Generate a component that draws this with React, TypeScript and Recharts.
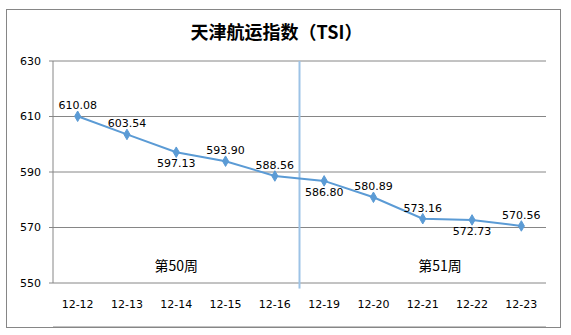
import React from "react";
import {
  LineChart,
  Line,
  XAxis,
  YAxis,
  CartesianGrid,
  ReferenceLine,
  ReferenceDot,
  LabelList,
  Symbols,
} from "recharts";

const dates = ["12-12", "12-13", "12-14", "12-15", "12-16", "12-19", "12-20", "12-21", "12-22", "12-23"];
const tsi = [610.08, 603.54, 597.13, 593.9, 588.56, 586.8, 580.89, 573.16, 572.73, 570.56];
const yTicks = [550, 570, 590, 610, 630];
const weeks = [
  { text: "第50周", x: 2.5, y: 556 },
  { text: "第51周", x: 7.85, y: 556 },
];
// index of points whose value label sits under the marker
const labelsBelow = [2, 5, 8];

const data = dates.map((d, i) => ({ date: d, idx: i + 0.5, value: tsi[i] }));
const boundaryTicks = dates.map((_, i) => i).concat(dates.length);
const centerTicks = dates.map((_, i) => i + 0.5);

const LINE = "#5B9BD5";
const GRID = "#868686";
const NUM_FONT = "DejaVu Sans, Verdana, sans-serif";
const CJK_FONT = "'Noto Sans CJK SC', sans-serif";

const Diamond = (props: any) => {
  const { cx, cy } = props;
  if (cx == null || cy == null) return null;
  return <Symbols cx={cx} cy={cy} type="diamond" size={32} fill={LINE} stroke={LINE} />;
};

const ValueLabel = (props: any) => {
  const { x, y, value, index } = props;
  const below = labelsBelow.includes(index);
  return (
    <text
      x={x}
      y={below ? y + 15 : y - 7}
      textAnchor="middle"
      fontSize={11}
      fontFamily={NUM_FONT}
      fill="#000"
    >
      {Number(value).toFixed(2)}
    </text>
  );
};

const App: React.FC = () => {
  return (
    <div style={{ position: "absolute", left: 0, top: 0, width: 571, height: 335, background: "#fff" }}>
      <div
        style={{
          position: "absolute",
          left: 6,
          top: 9,
          width: 555,
          height: 319,
          boxSizing: "border-box",
          border: `1px solid ${GRID}`,
        }}
      />
      <div
        style={{
          position: "absolute",
          left: 0,
          top: 19,
          width: 553,
          textAlign: "center",
          fontFamily: CJK_FONT,
          fontWeight: 700,
          fontSize: 18,
          lineHeight: "24px",
          color: "#000",
        }}
      >
        天津航运指数（TSI）
      </div>
      <div style={{ position: "absolute", left: 0, top: 0 }}>
        <LineChart width={571} height={335} data={data} margin={{ top: 61, right: 25, left: 0, bottom: 0 }}>
          <CartesianGrid vertical={false} stroke={GRID} strokeWidth={1} />
          <XAxis
            xAxisId="main"
            type="number"
            dataKey="idx"
            domain={[0, dates.length]}
            ticks={boundaryTicks}
            interval={0}
            tick={false}
            tickSize={4}
            stroke={GRID}
            height={8}
          />
          <XAxis
            xAxisId="labels"
            type="number"
            dataKey="idx"
            domain={[0, dates.length]}
            ticks={centerTicks}
            interval={0}
            tickFormatter={(v: number) => dates[Math.floor(v)]}
            axisLine={false}
            tickLine={false}
            tickMargin={11}
            height={44}
            tick={{ fontSize: 11, fontFamily: NUM_FONT, fill: "#000" }}
          />
          <YAxis
            domain={[550, 630]}
            ticks={yTicks}
            interval={0}
            width={53}
            tickSize={4}
            tickMargin={8}
            stroke={GRID}
            tick={{ fontSize: 11, fontFamily: NUM_FONT, fill: "#000" }}
          />
          <ReferenceLine
            xAxisId="main"
            segment={[
              { x: 5, y: 630 },
              { x: 5, y: 548 },
            ]}
            ifOverflow="visible"
            stroke="#9DC3E6"
            strokeWidth={2}
          />
          {weeks.map((w) => (
            <ReferenceDot
              key={w.text}
              xAxisId="main"
              x={w.x}
              y={w.y}
              r={0}
              fill="none"
              stroke="none"
              label={{
                value: w.text,
                position: "center",
                fontSize: 14,
                fontFamily: CJK_FONT,
                fill: "#000",
              }}
            />
          ))}
          <Line
            xAxisId="main"
            type="linear"
            dataKey="value"
            stroke={LINE}
            strokeWidth={2}
            dot={<Diamond />}
            activeDot={false}
            isAnimationActive={false}
          >
            <LabelList dataKey="value" content={<ValueLabel />} />
          </Line>
        </LineChart>
      </div>
    </div>
  );
};

export default App;
